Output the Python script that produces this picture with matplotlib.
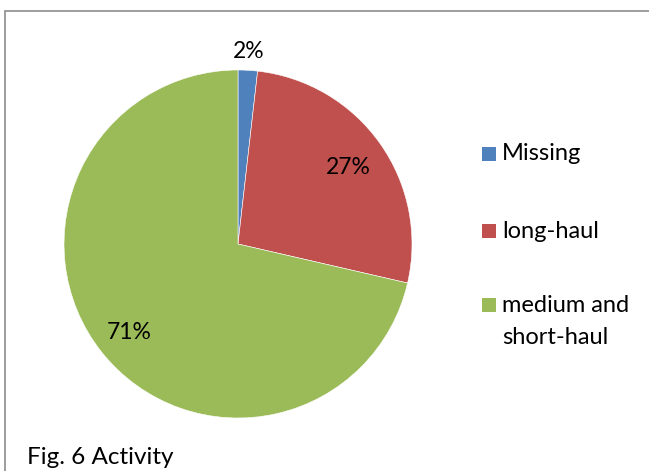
import numpy as np
import matplotlib.pyplot as plt
from matplotlib.patches import Rectangle

plt.rcParams["font.family"] = ["Lato", "DejaVu Sans"]

categories = ["Missing", "long-haul", "medium and\nshort-haul"]
shares = [1.8, 26.8, 71.4]
colors = ["#4F81BD", "#C0504D", "#9BBB59"]
label_radius = [1.12, 0.78, 0.80]

W, H = 649, 471
fig = plt.figure(figsize=(W / 100, H / 100), dpi=100)

# gray frame (right and bottom sides fall outside the picture)
fig.add_artist(Rectangle((5 / W, -0.1), 1.2, (H - 11) / H + 0.1, transform=fig.transFigure,
                         fill=False, edgecolor="#8c8c8c", linewidth=1.2))

cx, cy, r = 238, 244, 174
ax = fig.add_axes([(cx - r) / W, (H - cy - r) / H, 2 * r / W, 2 * r / H])
wedges, _ = ax.pie(shares, colors=colors, startangle=90, counterclock=False,
                   radius=1.0, wedgeprops=dict(edgecolor="white", linewidth=0.4))
ax.set_xlim(-1, 1)
ax.set_ylim(-1, 1)
ax.set_aspect("equal")
ax.axis("off")

for w, v, lr in zip(wedges, shares, label_radius):
    ang = np.deg2rad((w.theta1 + w.theta2) / 2)
    ax.text(lr * np.cos(ang), lr * np.sin(ang), f"{round(v):d}%",
            ha="center", va="center_baseline", fontsize=16.5, color="black", clip_on=False)

# legend, square aligned with the first line of each entry
row_y = [154, 231, 305]
sq = 14
for name, col, y in zip(categories, colors, row_y):
    fig.add_artist(Rectangle((482 / W, 1 - (y + sq / 2) / H), sq / W, sq / H,
                             transform=fig.transFigure, facecolor=col, edgecolor="none"))
    for k, line in enumerate(name.split("\n")):
        fig.text(502 / W, 1 - (y + 32 * k) / H, line, ha="left", va="center",
                 fontsize=17, color="black")

fig.text(27 / W, 1 - 457 / H, "Fig. 6 Activity", ha="left", va="center", fontsize=17.5)

fig.savefig("out.png", dpi=100)
